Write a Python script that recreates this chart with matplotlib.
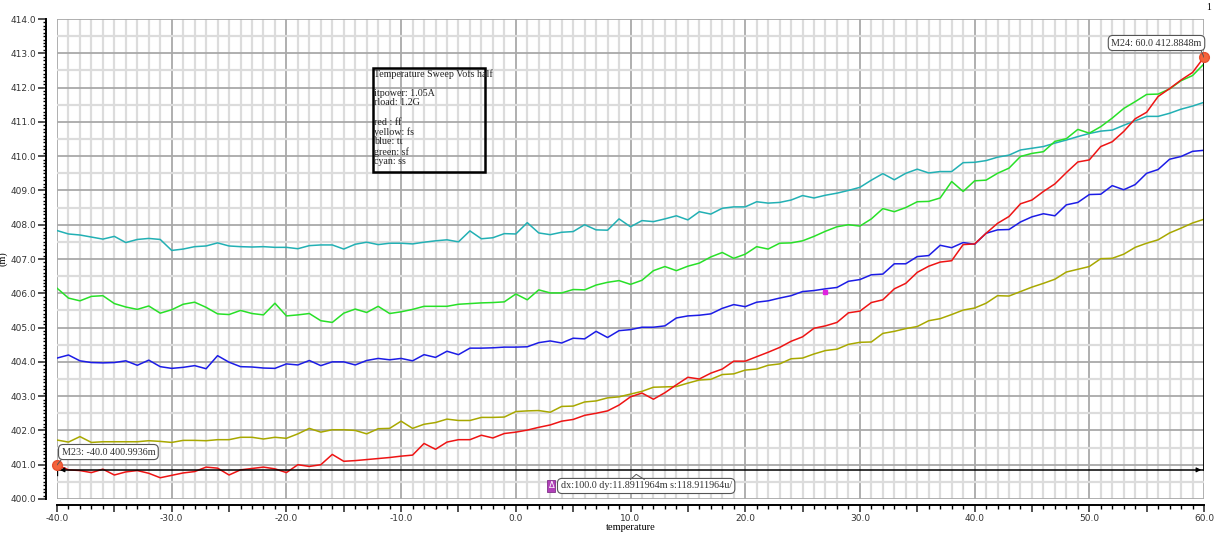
import numpy as np
import matplotlib.pyplot as plt

temperature = list(range(-40, 61))

# ff corner
red = [400.9936, 400.85, 400.83, 400.77, 400.87, 400.70, 400.79, 400.83, 400.75, 400.62,
       400.69, 400.76, 400.80, 400.93, 400.90, 400.70, 400.85, 400.89, 400.93, 400.88,
       400.77, 401.00, 400.95, 401.00, 401.30, 401.10, 401.12, 401.15, 401.18, 401.21,
       401.25, 401.28, 401.62, 401.45, 401.66, 401.73, 401.73, 401.86, 401.78, 401.91,
       401.95, 402.01, 402.09, 402.16, 402.27, 402.32, 402.44, 402.50, 402.57, 402.74,
       402.98, 403.09, 402.91, 403.10, 403.33, 403.55, 403.50, 403.67, 403.79, 404.02,
       404.02, 404.15, 404.28, 404.42, 404.60, 404.73, 404.98, 405.05, 405.15, 405.43,
       405.48, 405.73, 405.81, 406.13, 406.29, 406.61, 406.79, 406.91, 406.95, 407.42,
       407.44, 407.75, 408.04, 408.24, 408.61, 408.72, 408.97, 409.19, 409.52, 409.83,
       409.89, 410.28, 410.42, 410.72, 411.09, 411.28, 411.74, 411.97, 412.22, 412.44,
       412.8848]

# fs corner
yellow = [401.72, 401.66, 401.82, 401.65, 401.67, 401.67, 401.67, 401.67, 401.70, 401.68,
          401.65, 401.71, 401.71, 401.70, 401.73, 401.73, 401.80, 401.80, 401.75, 401.80,
          401.77, 401.90, 402.06, 401.95, 402.02, 402.02, 402.00, 401.90, 402.05, 402.06,
          402.27, 402.06, 402.18, 402.23, 402.33, 402.29, 402.29, 402.38, 402.38, 402.39,
          402.55, 402.57, 402.58, 402.53, 402.70, 402.71, 402.83, 402.86, 402.95, 402.98,
          403.06, 403.14, 403.26, 403.27, 403.28, 403.38, 403.47, 403.49, 403.63, 403.65,
          403.76, 403.79, 403.90, 403.94, 404.09, 404.11, 404.23, 404.33, 404.37, 404.51,
          404.57, 404.58, 404.83, 404.89, 404.97, 405.03, 405.20, 405.26, 405.38, 405.51,
          405.57, 405.71, 405.93, 405.92, 406.05, 406.18, 406.29, 406.41, 406.62, 406.70,
          406.78, 407.01, 407.02, 407.14, 407.34, 407.46, 407.56, 407.76, 407.90, 408.05,
          408.16]

# tt corner
blue = [404.11, 404.20, 404.03, 403.98, 403.97, 403.98, 404.03, 403.90, 404.05, 403.86,
        403.81, 403.84, 403.89, 403.80, 404.18, 403.99, 403.86, 403.85, 403.82, 403.81,
        403.94, 403.91, 404.04, 403.89, 404.00, 404.00, 403.91, 404.04, 404.10, 404.06,
        404.10, 404.03, 404.21, 404.13, 404.31, 404.21, 404.40, 404.40, 404.41, 404.43,
        404.43, 404.44, 404.56, 404.61, 404.55, 404.69, 404.67, 404.89, 404.71, 404.91,
        404.94, 405.01, 405.01, 405.05, 405.28, 405.34, 405.36, 405.40, 405.56, 405.67,
        405.61, 405.74, 405.78, 405.86, 405.93, 406.05, 406.08, 406.13, 406.17, 406.35,
        406.40, 406.54, 406.56, 406.86, 406.86, 407.07, 407.10, 407.40, 407.33, 407.48,
        407.43, 407.75, 407.85, 407.86, 408.08, 408.23, 408.32, 408.26, 408.58, 408.65,
        408.88, 408.89, 409.14, 409.02, 409.17, 409.50, 409.61, 409.91, 409.99, 410.14,
        410.17]

# sf corner
green = [406.15, 405.86, 405.78, 405.91, 405.93, 405.70, 405.60, 405.53, 405.63, 405.42,
         405.52, 405.68, 405.74, 405.59, 405.40, 405.38, 405.50, 405.41, 405.37, 405.71,
         405.34, 405.37, 405.41, 405.20, 405.15, 405.42, 405.54, 405.44, 405.62, 405.41,
         405.46, 405.53, 405.62, 405.62, 405.62, 405.68, 405.70, 405.72, 405.73, 405.75,
         405.98, 405.81, 406.10, 406.01, 406.01, 406.11, 406.10, 406.24, 406.32, 406.37,
         406.26, 406.38, 406.66, 406.78, 406.66, 406.79, 406.88, 407.06, 407.19, 407.02,
         407.14, 407.36, 407.29, 407.46, 407.47, 407.53, 407.66, 407.81, 407.94, 408.00,
         407.96, 408.17, 408.47, 408.38, 408.50, 408.67, 408.68, 408.78, 409.26, 408.97,
         409.28, 409.30, 409.50, 409.65, 409.99, 410.08, 410.13, 410.43, 410.51, 410.78,
         410.67, 410.86, 411.11, 411.39, 411.59, 411.80, 411.81, 411.96, 412.20, 412.35,
         412.69]

# ss corner
cyan = [407.83, 407.73, 407.70, 407.64, 407.58, 407.66, 407.48, 407.57, 407.60, 407.57,
        407.25, 407.29, 407.36, 407.38, 407.47, 407.38, 407.36, 407.35, 407.36, 407.34,
        407.34, 407.30, 407.39, 407.41, 407.41, 407.29, 407.43, 407.49, 407.42, 407.46,
        407.46, 407.44, 407.49, 407.53, 407.56, 407.50, 407.82, 407.59, 407.62, 407.74,
        407.73, 408.06, 407.76, 407.71, 407.78, 407.80, 408.00, 407.85, 407.84, 408.17,
        407.94, 408.12, 408.09, 408.17, 408.26, 408.14, 408.38, 408.31, 408.48, 408.52,
        408.52, 408.67, 408.63, 408.65, 408.72, 408.85, 408.78, 408.86, 408.92, 409.00,
        409.09, 409.30, 409.49, 409.31, 409.50, 409.62, 409.51, 409.55, 409.55, 409.81,
        409.82, 409.87, 409.97, 410.03, 410.18, 410.23, 410.28, 410.38, 410.47, 410.57,
        410.66, 410.73, 410.76, 410.90, 411.03, 411.16, 411.16, 411.25, 411.37, 411.46,
        411.57]

series = [
    (cyan, "#22b0b4"),
    (green, "#28e028"),
    (blue, "#1c1ce6"),
    (yellow, "#a8a800"),
    (red, "#ee1414"),
]

m23 = (-40.0, 400.9936)
m24 = (60.0, 412.8848)
delta_dy = 11.8911964   # m
delta_y = 400.85
stray_point = (27.0, 406.04)

SERIF = "Liberation Serif"

fig = plt.figure(figsize=(12.14, 5.33), dpi=100)
ax = fig.add_axes([57 / 1214, 1 - 499 / 533, (1204 - 57) / 1214, (499 - 19) / 533])
ax.set_xlim(-40, 60)
ax.set_ylim(400, 414)

# background grid: fine lines every 1 deg / 0.5, darker every 10 deg / 1.0
for gx in np.arange(-40, 61, 1):
    major = gx % 10 == 0
    ax.axvline(gx, color="#a9a9a9" if major else "#dcdcdc",
               lw=1.3 if major else 1.6, zorder=0)
for gy in np.arange(400, 414.01, 0.5):
    major = abs(gy - round(gy)) < 1e-6
    ax.axhline(gy, color="#a9a9a9" if major else "#dcdcdc",
               lw=1.3 if major else 1.6, zorder=0)

for values, color in series:
    ax.plot(temperature, values, color=color, lw=1.1, zorder=3)

ax.plot(*stray_point, marker="s", ms=2.5, color="#e020e0", zorder=3)

# delta marker lines
ax.plot([m23[0], m24[0]], [delta_y, delta_y], color="black", lw=1.1, zorder=4)
ax.plot([m24[0], m24[0]], [delta_y, m24[1]], color="black", lw=1.3, zorder=4)
ax.plot([m23[0], m23[0]], [delta_y - 0.15, m23[1]], color="black", lw=1.0, zorder=4)
ax.annotate("", xy=(m23[0], delta_y), xytext=(m23[0] + 0.8, delta_y),
            arrowprops=dict(arrowstyle="-|>", color="black", lw=0.8,
                            mutation_scale=7), zorder=5)
ax.annotate("", xy=(m24[0], delta_y), xytext=(m24[0] - 0.8, delta_y),
            arrowprops=dict(arrowstyle="-|>", color="black", lw=0.8,
                            mutation_scale=7), zorder=5)

for mx, my in (m23, m24):
    ax.plot(mx, my, "o", ms=7, color="#f4643c", mec="#e85030", zorder=6,
            clip_on=False)

label_kw = dict(fontsize=7.3, family=SERIF, color="#333333", zorder=7,
                bbox=dict(boxstyle="round,pad=0.3,rounding_size=0.45",
                          fc="white", ec="#555555", lw=0.8))
ax.text(-39.6, 401.37, f"M23: {m23[0]:.1f} {m23[1]:.4f}m", ha="left",
        va="center", **label_kw)
ax.plot([m23[0], -39.5], [m23[1], 401.2], color="#555555", lw=0.7, zorder=6)
ax.text(59.8, 413.3, f"M24: {m24[0]:.1f} {m24[1]:.4f}m", ha="right",
        va="center", **label_kw)
ax.plot([m24[0], 59.7], [m24[1], 413.12], color="#555555", lw=0.7, zorder=6)

dx = m24[0] - m23[0]
slope = delta_dy / dx * 1000
ax.text(3.9, 400.38, f"dx:{dx:.1f} dy:{delta_dy:.7f}m s:{slope:.6f}u/",
        ha="left", va="center", **label_kw)
ax.text(3.1, 400.38, "\u0394", ha="center", va="center", fontsize=6,
        color="white", zorder=8,
        bbox=dict(boxstyle="square,pad=0.15", fc="#b040b8", ec="#803088", lw=0.6))
ax.plot([10.0, 10.5, 11.2], [400.57, 400.72, 400.57], color="#555555", lw=0.7,
        zorder=8)

# info box
info = ("Temperature Sweep Vofs half\n\nitpower: 1.05A\nrload: 1.2G\n\n"
        "red : ff\nyellow: fs\nblue: tt\ngreen: sf\ncyan: ss")
fig.text(374 / 1214, 1 - 69 / 533, info, ha="left", va="top", fontsize=7.2,
         family=SERIF, color="#222222", linespacing=1.08)
fig.patches.append(plt.Rectangle((373 / 1214, 1 - 172 / 533), 112 / 1214,
                                 104 / 533, transform=fig.transFigure,
                                 fill=False, ec="black", lw=1.8))

# detached axes
for side in ("top", "right"):
    ax.spines[side].set_visible(False)
ax.spines["left"].set_position(("outward", 8))
ax.spines["bottom"].set_position(("outward", 4))
ax.spines["left"].set_linewidth(1.4)
ax.spines["bottom"].set_linewidth(1.4)

ax.set_yticks(np.arange(400, 414.1, 1))
ax.set_yticks(np.arange(400, 414.01, 0.1), minor=True)
ax.yaxis.set_major_formatter(plt.FuncFormatter(lambda v, p: f"{v:.1f}"))
ax.tick_params(axis="y", which="major", length=6, width=1.2, labelsize=6.5,
               pad=1, colors="#333333")
ax.tick_params(axis="y", which="minor", length=2.5, width=1.0)

ax.set_xticks(np.arange(-40, 61, 5))
ax.set_xticks(np.arange(-40, 61, 1), minor=True)
ax.xaxis.set_major_formatter(
    plt.FuncFormatter(lambda v, p: f"{v:.1f}" if round(v) % 10 == 0 else ""))
ax.tick_params(axis="x", which="major", length=5, width=1.2, labelsize=6.5,
               pad=2, colors="#333333")
ax.tick_params(axis="x", which="minor", length=3, width=1.0)

ax.set_xlabel("temperature", fontsize=7.5, family=SERIF, labelpad=0)
ax.set_ylabel("(m)", fontsize=7.5, family=SERIF, labelpad=2)
fig.text(1209 / 1214, 1 - 8 / 533, "1", fontsize=7, family=SERIF,
         ha="center", va="center")

fig.savefig("out.png", dpi=100)
